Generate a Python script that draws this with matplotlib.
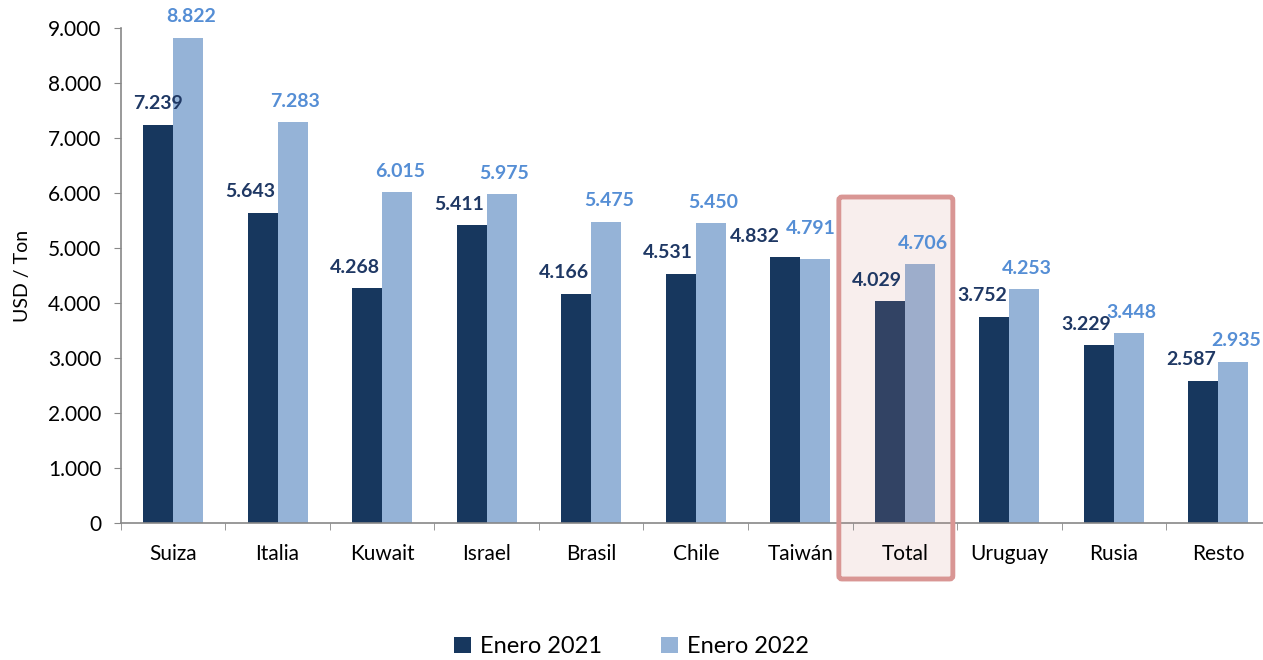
import matplotlib.pyplot as plt
import matplotlib.patches as mpatches
import numpy as np
from matplotlib.ticker import FuncFormatter

plt.rcParams['font.family'] = ['Lato', 'DejaVu Sans']

# datos
paises = ['Suiza', 'Italia', 'Kuwait', 'Israel', 'Brasil', 'Chile', 'Taiwán',
          'Total', 'Uruguay', 'Rusia', 'Resto']
enero_2021 = [7239, 5643, 4268, 5411, 4166, 4531, 4832, 4029, 3752, 3229, 2587]
enero_2022 = [8822, 7283, 6015, 5975, 5475, 5450, 4791, 4706, 4253, 3448, 2935]

c_2021 = '#17375E'
c_2022 = '#95B3D7'
c_lab21 = '#1F3864'
c_lab22 = '#558ED5'

def miles(v, pos=None):
    return f'{v:,.0f}'.replace(',', '.')

fig = plt.figure(figsize=(12.63, 6.6), dpi=100)
ax = fig.add_axes([120.75 / 1263, 137 / 660, 1150 / 1263, 495 / 660])

x = np.arange(len(paises))
w = 0.287
b1 = ax.bar(x - w / 2, enero_2021, w, color=c_2021, label='Enero 2021', zorder=2)
b2 = ax.bar(x + w / 2, enero_2022, w, color=c_2022, label='Enero 2022', zorder=2)

# etiquetas de valor (a la Excel, las oscuras un poco corridas a la izquierda)
for i, (xi, v) in enumerate(zip(x, enero_2021)):
    dx = 0 if i == 0 else -9
    if paises[i] == 'Taiwán':
        dx = -22
    ax.annotate(miles(v), (xi - w / 2, v), xytext=(dx, 9), textcoords='offset points',
                ha='center', va='bottom', fontsize=14, fontweight='bold',
                color=c_lab21, zorder=6)
for i, (xi, v) in enumerate(zip(x, enero_2022)):
    dx, dy = 2, 9
    if paises[i] == 'Taiwán':
        dx, dy = -3, 16
    ax.annotate(miles(v), (xi + w / 2, v), xytext=(dx, dy), textcoords='offset points',
                ha='center', va='bottom', fontsize=14, fontweight='bold',
                color=c_lab22, zorder=6)

# recuadro del total
it = paises.index('Total')
px = 1150 / 11  # pixeles por categoria
kw = dict(boxstyle='round,pad=0,rounding_size=0.03', clip_on=False,
          mutation_aspect=9000 / 495 * px)
caja = mpatches.FancyBboxPatch((it - 66 / px, -1018), 114 / px, 5927 + 1018,
                               facecolor='#D08E87', alpha=0.15, edgecolor='none',
                               zorder=3, **kw)
ax.add_patch(caja)
borde = mpatches.FancyBboxPatch((it - 66 / px, -1018), 114 / px, 5927 + 1018,
                                facecolor='none', edgecolor='#D99694', linewidth=3.5,
                                zorder=4, **kw)
ax.add_patch(borde)

ax.set_xlim(-0.5, 10.5)
ax.set_ylim(0, 9000)
ax.set_yticks(np.arange(0, 9001, 1000))
ax.yaxis.set_major_formatter(FuncFormatter(miles))
ax.set_xticks(x)
ax.set_xticklabels(paises)
ax.set_xticks(np.arange(-0.5, 11, 1), minor=True)
ax.tick_params(axis='x', which='major', length=0, labelsize=15, pad=15)
ax.tick_params(axis='x', which='minor', length=5, color='#888888')
ax.tick_params(axis='y', length=5, color='#888888', labelsize=15, pad=9)
ax.set_ylabel('USD / Ton', fontsize=14, labelpad=12)
ax.xaxis.set_zorder(5)

for s in ['top', 'right']:
    ax.spines[s].set_visible(False)
for s in ['left', 'bottom']:
    ax.spines[s].set_color('#888888')
    ax.spines[s].set_linewidth(1.2)

fig.legend(handles=[b1, b2], loc='lower center', bbox_to_anchor=(0.5, -0.028), ncol=2,
           frameon=False, fontsize=17, handlelength=0.7, handleheight=0.7,
           columnspacing=2.5, handletextpad=0.4)

fig.savefig('out.png', dpi=100)
